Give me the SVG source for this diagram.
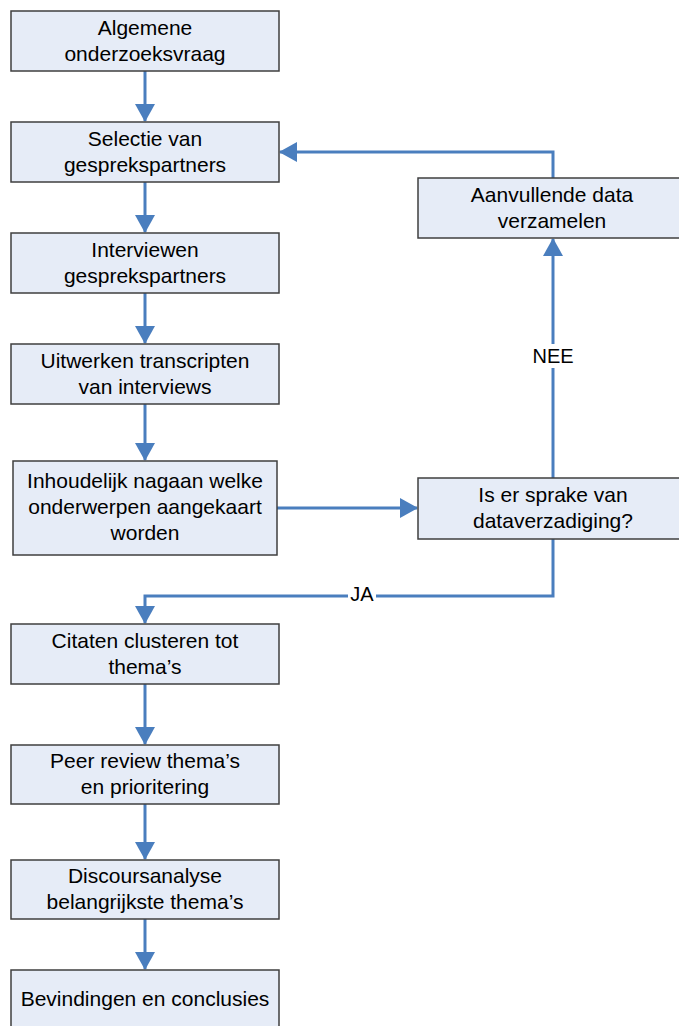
<svg xmlns="http://www.w3.org/2000/svg" width="679" height="1026" viewBox="0 0 679 1026">
  <style>
    .box { fill: #e6ecf7; stroke: #3f3f3f; stroke-width: 1.5; }
    .txt { font-family: "Liberation Sans", Arial, sans-serif; font-size: 21px; fill: #000; text-anchor: middle; }
    .lbl { font-family: "Liberation Sans", Arial, sans-serif; font-size: 20px; fill: #000; text-anchor: middle; }
    .wire { fill: none; stroke: #4a7ebe; stroke-width: 3; }
  </style>
  <defs>
    <marker id="arrow" viewBox="0 0 18 20" refX="17" refY="10" markerWidth="18" markerHeight="20" markerUnits="userSpaceOnUse" orient="auto">
      <path d="M0,0 L18,10 L0,20 Z" fill="#4a7ebe"/>
    </marker>
  </defs>

  <!-- connectors -->
  <g id="connectors">
    <path class="wire" d="M145,71 V121" marker-end="url(#arrow)"/>
    <path class="wire" d="M145,182 V232" marker-end="url(#arrow)"/>
    <path class="wire" d="M145,293 V343" marker-end="url(#arrow)"/>
    <path class="wire" d="M145,404 V460" marker-end="url(#arrow)"/>
    <path class="wire" d="M277,508 H417" marker-end="url(#arrow)"/>
    <path class="wire" d="M553,478 V239" marker-end="url(#arrow)"/>
    <path class="wire" d="M553,178 V152 H280" marker-end="url(#arrow)"/>
    <path class="wire" d="M553,539 V596 H145 V623" marker-end="url(#arrow)"/>
    <path class="wire" d="M145,684 V744" marker-end="url(#arrow)"/>
    <path class="wire" d="M145,804 V859" marker-end="url(#arrow)"/>
    <path class="wire" d="M145,919 V969" marker-end="url(#arrow)"/>
    <!-- branch labels -->
    <rect x="531" y="344" width="44" height="24" fill="#fff"/>
    <text class="lbl" x="553" y="363">NEE</text>
    <rect x="348" y="585" width="28" height="22" fill="#fff"/>
    <text class="lbl" x="362" y="601">JA</text>
  </g>

  <g id="n1">
    <rect class="box" x="11" y="11" width="268" height="60"/>
    <text class="txt" x="145" y="35">Algemene</text>
    <text class="txt" x="145" y="61">onderzoeksvraag</text>
  </g>
  <g id="n2">
    <rect class="box" x="11" y="122" width="268" height="60"/>
    <text class="txt" x="145" y="146">Selectie van</text>
    <text class="txt" x="145" y="172">gesprekspartners</text>
  </g>
  <g id="n3">
    <rect class="box" x="11" y="233" width="268" height="60"/>
    <text class="txt" x="145" y="257">Interviewen</text>
    <text class="txt" x="145" y="283">gesprekspartners</text>
  </g>
  <g id="n4">
    <rect class="box" x="11" y="344" width="268" height="60"/>
    <text class="txt" x="145" y="368">Uitwerken transcripten</text>
    <text class="txt" x="145" y="394">van interviews</text>
  </g>
  <g id="n5">
    <rect class="box" x="13" y="461" width="264" height="94"/>
    <text class="txt" x="145" y="488">Inhoudelijk nagaan welke</text>
    <text class="txt" x="145" y="514">onderwerpen aangekaart</text>
    <text class="txt" x="145" y="540">worden</text>
  </g>
  <g id="n6">
    <rect class="box" x="418" y="478" width="270" height="61"/>
    <text class="txt" x="553" y="502">Is er sprake van</text>
    <text class="txt" x="553" y="528">dataverzadiging?</text>
  </g>
  <g id="n7">
    <rect class="box" x="418" y="178" width="270" height="60"/>
    <text class="txt" x="552" y="202">Aanvullende data</text>
    <text class="txt" x="552" y="228">verzamelen</text>
  </g>
  <g id="n8">
    <rect class="box" x="11" y="624" width="268" height="60"/>
    <text class="txt" x="145" y="648">Citaten clusteren tot</text>
    <text class="txt" x="145" y="674">thema’s</text>
  </g>
  <g id="n9">
    <rect class="box" x="11" y="745" width="268" height="59"/>
    <text class="txt" x="145" y="768">Peer review thema’s</text>
    <text class="txt" x="145" y="794">en prioritering</text>
  </g>
  <g id="n10">
    <rect class="box" x="11" y="860" width="268" height="59"/>
    <text class="txt" x="145" y="883">Discoursanalyse</text>
    <text class="txt" x="145" y="909">belangrijkste thema’s</text>
  </g>
  <g id="n11">
    <rect class="box" x="11" y="970" width="268" height="60"/>
    <text class="txt" x="145" y="1006">Bevindingen en conclusies</text>
  </g>
</svg>
